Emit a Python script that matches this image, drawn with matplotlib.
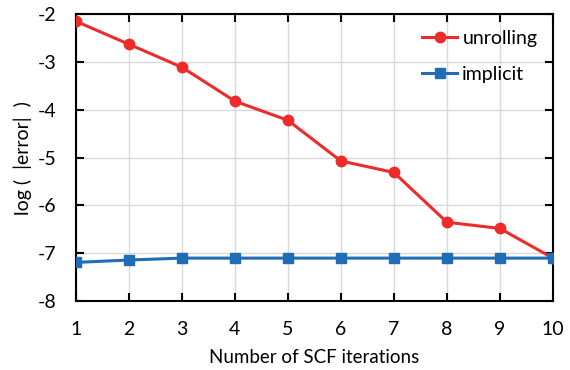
import numpy as np
import matplotlib
matplotlib.use("Agg")
import matplotlib.pyplot as plt

# values
iterations = [1, 2, 3, 4, 5, 6, 7, 8, 9, 10]
unrolling = [-2.15, -2.63, -3.11, -3.82, -4.22, -5.07, -5.31, -6.35, -6.48, -7.10]
implicit = [-7.19, -7.14, -7.10, -7.10, -7.10, -7.10, -7.10, -7.10, -7.10, -7.10]

plt.rcParams['font.family'] = ['Lato', 'DejaVu Sans']
plt.rcParams['font.size'] = 14
plt.rcParams['axes.unicode_minus'] = False

fig, ax = plt.subplots(figsize=(5.7, 3.7), dpi=100)
fig.subplots_adjust(left=0.133, right=0.970, top=0.962, bottom=0.186)

ax.plot(iterations, unrolling, '-o', color='#EE2B2B', lw=2.2, ms=7.5, label='unrolling', zorder=3)
ax.plot(iterations, implicit, '-s', color='#1F6DB4', lw=2.2, ms=7.2, label='implicit', zorder=3)

ax.set_xlim(1, 10)
ax.set_ylim(-8, -2)
ax.set_xticks(iterations)
ax.set_yticks(np.arange(-8, -1, 1))
ax.grid(True, color='#D9D9D9', lw=1.0)
ax.set_axisbelow(True)
for s in ax.spines.values():
    s.set_linewidth(1.5)
ax.tick_params(direction='in', length=6, width=1.5, top=True, right=True, pad=14, labelsize=14)

ax.set_xlabel('Number of SCF iterations', labelpad=8, fontsize=13.5)
ax.set_ylabel('log (  |error|  )', fontsize=14, labelpad=4)

ax.legend(loc='upper right', frameon=False, handlelength=1.8, handletextpad=0.25,
          labelspacing=1.0, borderaxespad=0.4, fontsize=14)

plt.savefig('out.png', dpi=100)
